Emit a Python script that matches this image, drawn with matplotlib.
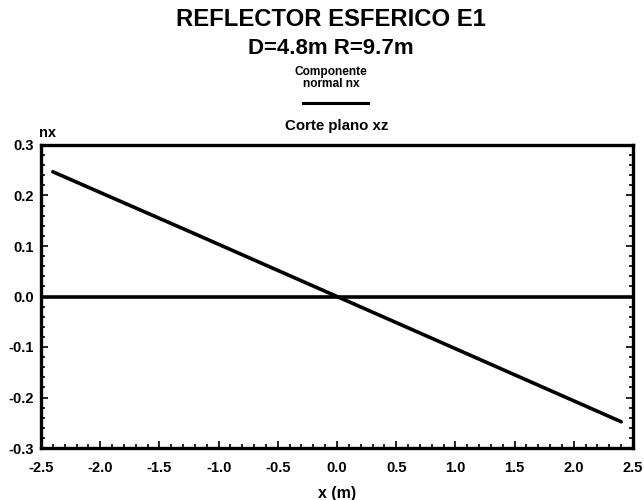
import matplotlib
matplotlib.use("Agg")
import matplotlib.pyplot as plt
from matplotlib.ticker import MultipleLocator, FormatStrFormatter
from matplotlib.lines import Line2D

plt.rcParams['font.family'] = ['Liberation Sans', 'DejaVu Sans']
plt.rcParams['font.weight'] = 'bold'

# Normal component nx along the xz cut of the spherical reflector
x_m = [-2.4, -1.2, 0.0, 1.2, 2.4]
nx = [0.247, 0.124, 0.0, -0.124, -0.248]

title = "REFLECTOR ESFERICO E1"
subtitle = "D=4.8m R=9.7m"
legend_label = ["Componente", "normal nx"]
panel_title = "Corte plano xz"

fig = plt.figure(figsize=(6.44, 5.0), dpi=100)
W, H = 644, 500
left, right, top, bottom = 41, 633, 145, 448
ax = fig.add_axes([left / W, 1 - bottom / H, (right - left) / W, (bottom - top) / H])

ax.plot(x_m, nx, color='black', lw=2.6, solid_capstyle='round')
ax.axhline(0.0, color='black', lw=2.6)

ax.set_xlim(-2.5, 2.5)
ax.set_ylim(-0.3, 0.3)
ax.xaxis.set_major_locator(MultipleLocator(0.5))
ax.xaxis.set_minor_locator(MultipleLocator(0.1))
ax.yaxis.set_major_locator(MultipleLocator(0.1))
ax.yaxis.set_minor_locator(MultipleLocator(0.02))
ax.xaxis.set_major_formatter(FormatStrFormatter('%.1f'))
ax.yaxis.set_major_formatter(FormatStrFormatter('%.1f'))
ax.tick_params(which='both', direction='in', top=False, right=True, labelsize=10.5, width=1.2)
ax.tick_params(which='major', length=5)
ax.tick_params(which='minor', length=3)
ax.tick_params(axis='x', pad=9)
ax.tick_params(axis='y', pad=5)
for s in ax.spines.values():
    s.set_linewidth(2.4)

ax.set_xlabel("x (m)", fontsize=11.5, fontweight='bold', labelpad=8)
ax.text(48 / W, 1 - 133 / H, "nx", transform=fig.transFigure, fontsize=10.5,
        fontweight='bold', ha='center', va='center')
ax.set_title(panel_title, fontsize=10.8, fontweight='bold', pad=11)

fig.text(331 / W, 1 - 20 / H, title, fontsize=17.2, fontweight='bold', ha='center', va='center')
fig.text(331 / W, 1 - 49 / H, subtitle, fontsize=16, fontweight='bold', ha='center', va='center')
fig.text(331 / W, 1 - 72 / H, legend_label[0], fontsize=8.6, fontweight='bold', ha='center', va='center')
fig.text(331 / W, 1 - 84 / H, legend_label[1], fontsize=8.6, fontweight='bold', ha='center', va='center')
fig.add_artist(Line2D([303 / W, 368 / W], [1 - 103 / H, 1 - 103 / H], color='black', lw=2.2))

fig.savefig("out.png", dpi=100, facecolor='white')
